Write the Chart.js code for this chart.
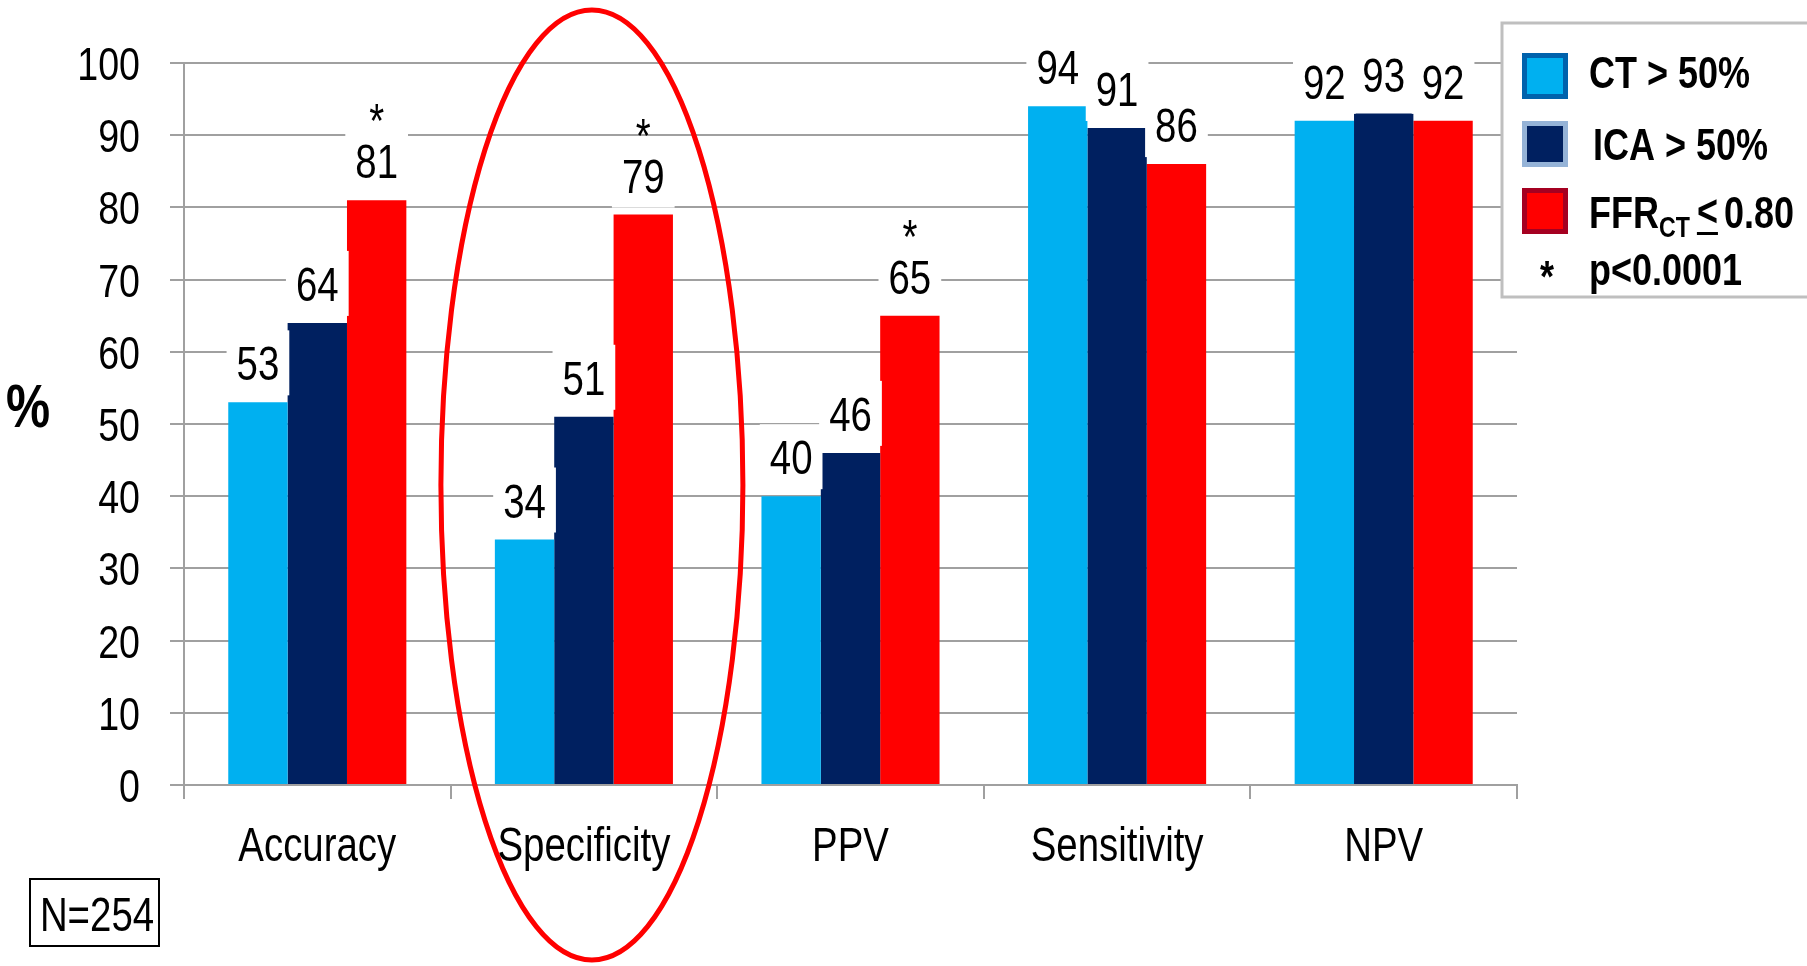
<!DOCTYPE html>
<html>
<head>
<meta charset="utf-8">
<script src="https://cdn.jsdelivr.net/npm/chart.js@4.4.1/dist/chart.umd.min.js"></script>
<style>
  html, body { margin: 0; padding: 0; background: #fff; }
  #wrap { width: 1807px; height: 966px; position: relative; }
</style>
</head>
<body>
<div id="wrap"><canvas id="chart"></canvas></div>
<script>
const categories = ["Accuracy", "Specificity", "PPV", "Sensitivity", "NPV"];
const ctValues = [53, 34, 40, 94, 92];
const icaValues = [64, 51, 46, 91, 93];
const ffrValues = [81, 79, 65, 86, 92];
const ffrSignificant = [true, true, true, false, false];
const yTicks = [0, 10, 20, 30, 40, 50, 60, 70, 80, 90, 100];

const FONT = '"Liberation Sans", Arial, sans-serif';
const NARROW = 0.8; // reference uses a narrow face, squeeze text horizontally
const GRID = "#a0a0a0";

// draw horizontally squeezed text, align: left / center / right
function narrowText(ctx, txt, x, y, align) {
    const w = ctx.measureText(txt).width * NARROW;
    let left = x;
    if (align === "center") left = x - w / 2;
    else if (align === "right") left = x - w;
    ctx.save();
    ctx.translate(left, y);
    ctx.scale(NARROW, 1);
    ctx.textAlign = "left";
    ctx.fillText(txt, 0, 0);
    ctx.restore();
    return w;
}

// axis tick labels drawn here so they can be squeezed
const tickLabels = {
    id: "tickLabels",
    afterDraw(chart) {
        const ctx = chart.ctx;
        const xs = chart.scales.x, ys = chart.scales.y;
        ctx.save();
        ctx.fillStyle = "#000";
        ctx.textBaseline = "alphabetic";
        ctx.font = "47px " + FONT;
        ys.ticks.forEach(t => {
            narrowText(ctx, String(t.value), 140, ys.getPixelForValue(t.value) + 17, "right");
        });
        ctx.font = "48px " + FONT;
        categories.forEach((c, i) => {
            narrowText(ctx, c, xs.getPixelForValue(i), xs.top + 76, "center");
        });
        ctx.restore();
    }
};

// value labels with white boxes, asterisks for p<0.0001
const valueLabels = {
    id: "valueLabels",
    afterDatasetsDraw(chart) {
        const ctx = chart.ctx;
        ctx.save();
        ctx.font = "48px " + FONT;
        ctx.textBaseline = "alphabetic";
        const items = [];
        chart.data.datasets.forEach((ds, di) => {
            chart.getDatasetMeta(di).data.forEach((bar, i) => {
                items.push({ x: bar.x, y: bar.y - 22, txt: String(ds.data[i]), star: ds.stars && ds.stars[i] });
            });
        });
        ctx.fillStyle = "#fff";
        items.forEach(it => {
            const w = ctx.measureText(it.txt).width * NARROW + 20;
            ctx.fillRect(it.x - w / 2, it.y - 50, w, 65);
        });
        ctx.fillStyle = "#000";
        items.forEach(it => {
            narrowText(ctx, it.txt, it.x, it.y, "center");
            if (it.star) narrowText(ctx, "*", it.x, it.y - 41, "center");
        });
        ctx.restore();
    }
};

const extras = {
    id: "extras",
    afterDraw(chart) {
        const ctx = chart.ctx;
        const xs = chart.scales.x;
        ctx.save();

        // ellipse around Specificity
        ctx.strokeStyle = "#ff0000";
        ctx.lineWidth = 5;
        ctx.beginPath();
        ctx.ellipse(xs.getPixelForValue(1) + 8, chart.height / 2 + 2, 151, chart.height / 2 - 8, 0, 0, Math.PI * 2);
        ctx.stroke();

        // legend box
        const lx = 1502, ly = 23;
        ctx.fillStyle = "#fff";
        ctx.fillRect(lx, ly, 330, 274);
        ctx.strokeStyle = "#bfbfbf";
        ctx.lineWidth = 3;
        ctx.strokeRect(lx, ly, 330, 274);

        const swatches = [
            { fill: "#00b0f0", border: "#0062ac", y: 53 },
            { fill: "#002060", border: "#95b3d7", y: 121 },
            { fill: "#ff0000", border: "#a50021", y: 188 }
        ];
        swatches.forEach(s => {
            ctx.fillStyle = s.border;
            ctx.fillRect(1522, s.y, 46, 46);
            ctx.fillStyle = s.fill;
            ctx.fillRect(1527, s.y + 5, 36, 36);
        });

        ctx.fillStyle = "#000";
        ctx.textBaseline = "alphabetic";
        ctx.font = "bold 45px " + FONT;
        narrowText(ctx, "CT > 50%", 1589, 88, "left");
        narrowText(ctx, "ICA > 50%", 1593, 160, "left");
        let x = 1589;
        x += narrowText(ctx, "FFR", x, 228, "left");
        ctx.font = "bold 29px " + FONT;
        x += narrowText(ctx, "CT", x, 237, "left") + 7;
        ctx.font = "bold 45px " + FONT;
        const lw = narrowText(ctx, "<", x, 226, "left");
        ctx.fillRect(x, 232, lw, 3);
        x += lw + 6;
        narrowText(ctx, "0.80", x, 228, "left");
        narrowText(ctx, "p<0.0001", 1589, 285, "left");
        narrowText(ctx, "*", 1547, 292, "center");

        // axis title
        ctx.font = "bold 62px " + FONT;
        narrowText(ctx, "%", 28, 427, "center");

        // N box
        ctx.strokeStyle = "#000";
        ctx.lineWidth = 2;
        ctx.strokeRect(30, 879, 129, 67);
        ctx.font = "48px " + FONT;
        narrowText(ctx, "N=254", 97, 931, "center");

        ctx.restore();
    }
};

new Chart(document.getElementById("chart"), {
    type: "bar",
    data: {
        labels: categories,
        datasets: [
            { label: "CT > 50%", data: ctValues, backgroundColor: "#00b0f0" },
            { label: "ICA > 50%", data: icaValues, backgroundColor: "#002060" },
            { label: "FFRct ≤ 0.80", data: ffrValues, backgroundColor: "#ff0000", stars: ffrSignificant }
        ]
    },
    options: {
        responsive: true,
        maintainAspectRatio: false,
        animation: false,
        layout: { padding: { top: 63, right: 290, left: 0, bottom: 0 } },
        datasets: { bar: { categoryPercentage: 0.668, barPercentage: 1.0, borderWidth: 0 } },
        plugins: {
            legend: { display: false },
            tooltip: { enabled: false }
        },
        scales: {
            x: {
                afterFit(scale) { scale.height = 181; },
                grid: { drawOnChartArea: false, drawTicks: true, tickLength: 14, color: GRID, lineWidth: 2, offset: true },
                border: { color: GRID, width: 2 },
                ticks: { display: false }
            },
            y: {
                min: 0,
                max: 100,
                afterFit(scale) { scale.width = 184; },
                afterBuildTicks(scale) { scale.ticks = yTicks.map(v => ({ value: v })); },
                grid: { color: GRID, lineWidth: 2, tickLength: 14 },
                border: { color: GRID, width: 2 },
                ticks: { display: false }
            }
        }
    },
    plugins: [valueLabels, extras, tickLabels]
});
</script>
</body>
</html>
